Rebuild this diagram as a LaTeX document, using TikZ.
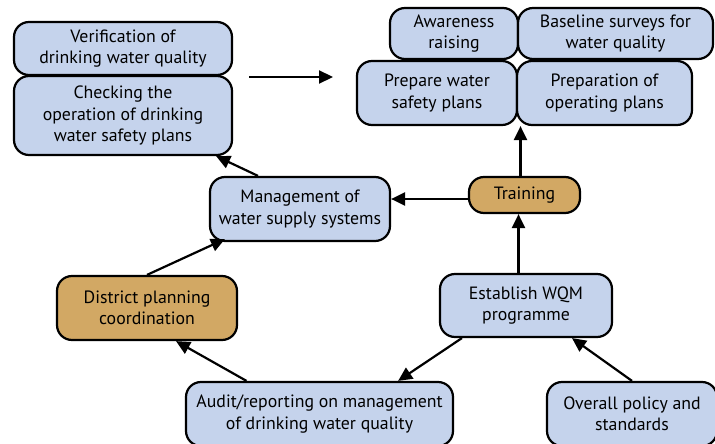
\documentclass[tikz,border=0pt]{standalone}
\usepackage{fontspec}
\setmainfont{PT Sans}
\usetikzlibrary{arrows.meta}
\definecolor{boxblue}{HTML}{C5D3EC}
\definecolor{boxtan}{HTML}{D2A864}
\tikzset{
  box/.style={draw=black, line width=2.2pt, rounded corners=15pt, fill=boxblue,
    minimum width=#1, inner sep=0pt, align=center,
    font=\fontsize{17.8}{21.5}\selectfont},
  tanbox/.style={box=#1, fill=boxtan},
  arr/.style={line width=2.2pt, -{Triangle[length=14pt,width=13pt]}}
}
\begin{document}
\begin{tikzpicture}[x=1pt,y=-1pt]
\useasboundingbox (0,0) rectangle (715,444);
\clip (0,0) rectangle (715,444);
\node[box=218pt, minimum height=53pt] (verif) at (123,48.5) {Verification of\\drinking water quality};
\node[box=218pt, minimum height=79pt] (check) at (123,115.5) {Checking the\\operation of drinking\\water safety plans};
\node[box=128pt, minimum height=51pt] (aware) at (454,33.5) {Awareness\\raising};
\node[box=195pt, minimum height=51pt] (base) at (615.5,33.5) {Baseline surveys for\\water quality};
\node[box=160pt, minimum height=64pt] (prep) at (437,93) {Prepare water\\safety plans};
\node[box=175pt, minimum height=64pt] (prepop) at (604.5,93) {Preparation of\\operating plans};
\node[box=180pt, minimum height=64pt] (mgmt) at (300,209) {Management of\\water supply systems};
\node[tanbox=111pt, minimum height=36pt] (train) at (524.5,195) {Training};
\node[tanbox=180pt, minimum height=64pt] (district) at (147,308) {District planning\\coordination};
\node[box=172pt, minimum height=63pt] (establish) at (526,305.5) {Establish WQM\\programme};
\node[box=267pt, minimum height=64pt] (audit) at (319.5,414) {Audit/reporting on management\\of drinking water quality};
\node[box=170pt, minimum height=64pt] (overall) at (632,414) {Overall policy and\\standards};
\coordinate (a1) at (249,77);
\coordinate (a2) at (333,77);
\draw[arr] (a1) -- (a2);
\draw[arr] ([xshift=-4pt]train.north) -- ([xshift=-4pt]train.north |- prep.south);
\draw[arr] ([yshift=-4pt]train.west) -- ([yshift=-4pt]train.west -| mgmt.east);
\draw[arr] ([xshift=-6pt]train.south |- establish.north) -- ([xshift=-6pt]train.south);
\draw[arr] ([xshift=-42pt]mgmt.north) -- ([xshift=-17pt]check.south east);
\draw[arr] (district.north) -- ([shift={(16pt,3pt)}]mgmt.south west);
\draw[arr] ([xshift=-73pt]audit.north) -- ([xshift=29pt]district.south);
\draw[arr] ([xshift=23pt]establish.south west) -- ([xshift=-56pt]audit.north east);
\draw[arr] (overall.north) -- ([xshift=46pt]establish.south);
\end{tikzpicture}
\end{document}
